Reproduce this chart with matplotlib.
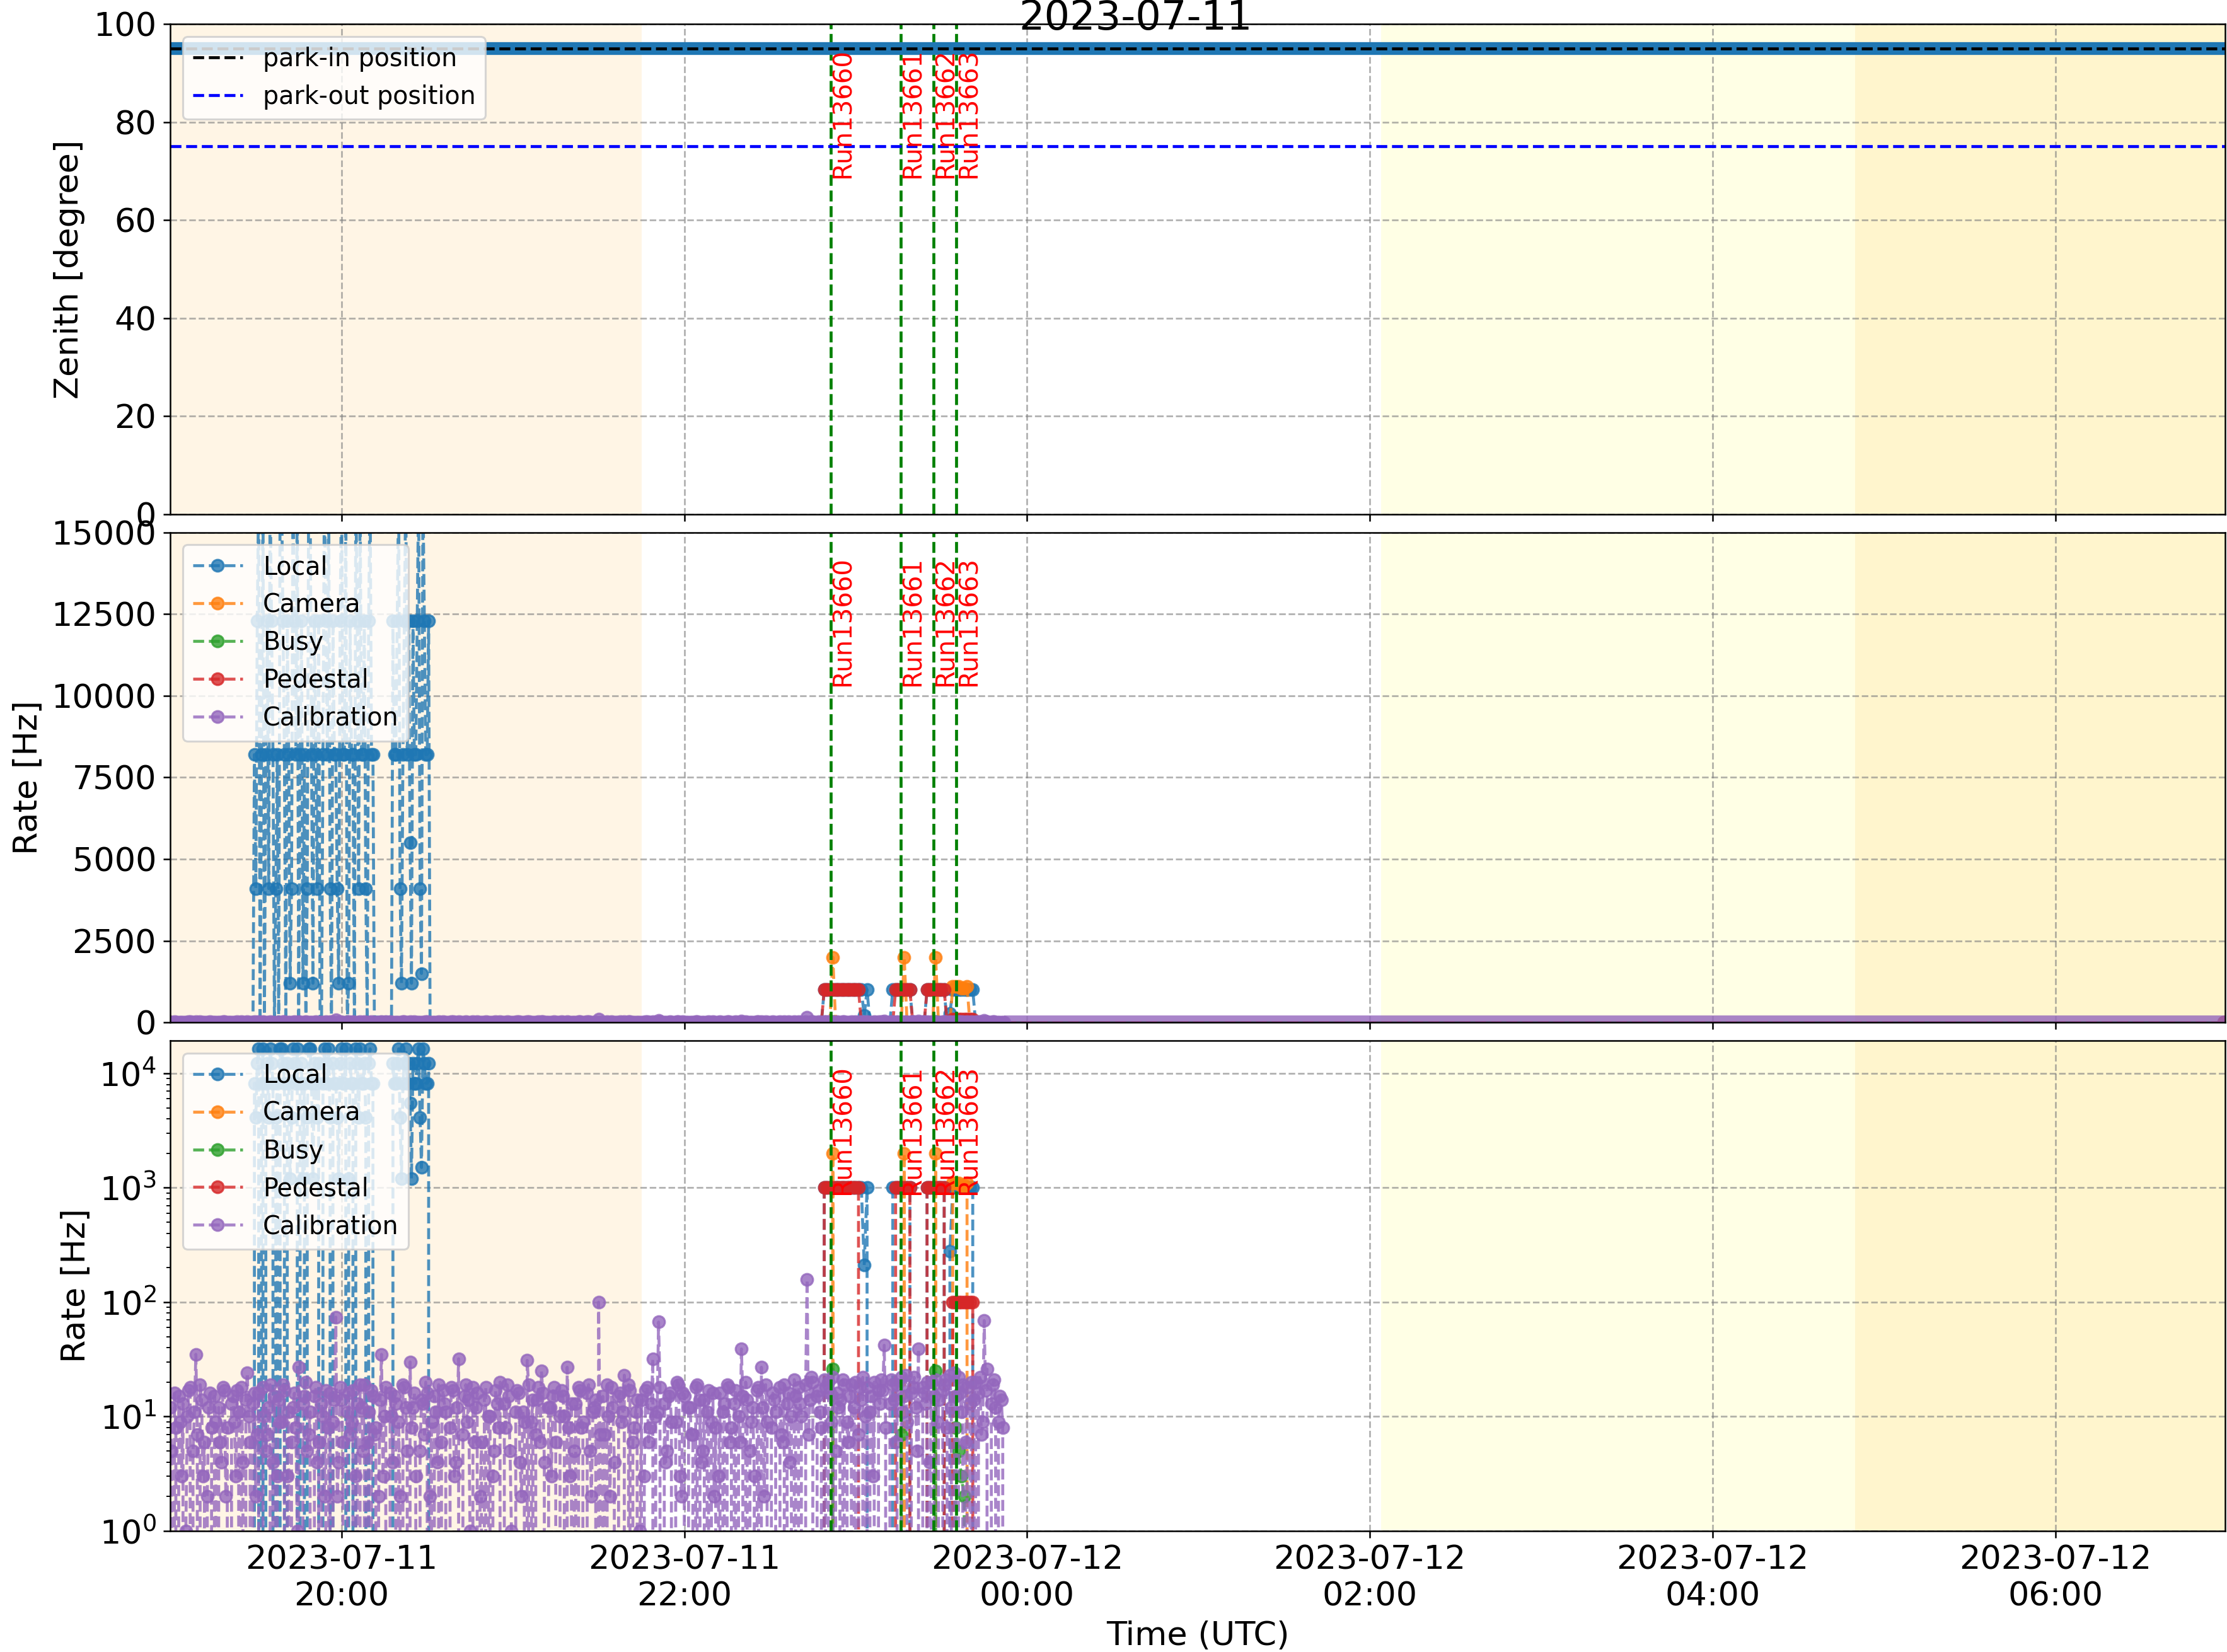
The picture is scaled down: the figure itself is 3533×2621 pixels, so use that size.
import matplotlib
matplotlib.use("Agg")
import matplotlib.pyplot as plt
import matplotlib.dates as mdates
import pandas as pd

plt.rcParams["font.size"] = 16.8

# ---- data -------------------------------------------------------------
title = "2023-07-11"
x_start = "2023-07-11 19:00:00"
x_end = "2023-07-12 06:59:30"

# sky condition bands (start, end, colour)
span_starts = ["2023-07-11 19:00:00", "2023-07-12 02:04:00", "2023-07-12 04:50:00"]
span_ends = ["2023-07-11 21:45:00", "2023-07-12 07:00:00", "2023-07-12 07:00:00"]
span_colors = ["orange", "yellow", "orange"]

# zenith of the telescope (parked all night)
zenith_times = ["2023-07-11 19:00:00", "2023-07-12 06:59:30"]
zenith_deg = [95.0, 95.0]
park_in = 95.0
park_out = 75.0

# runs
run_ids = [13660, 13661, 13662, 13663]
run_starts = ["2023-07-11 22:51:12", "2023-07-11 23:15:42",
              "2023-07-11 23:27:12", "2023-07-11 23:35:18"]

# trigger rates [Hz], one value per minute from each segment start
local_starts = ["2023-07-11 19:00:00", "2023-07-11 19:29:00", "2023-07-11 19:29:30",
                "2023-07-11 22:48:00", "2023-07-11 23:12:00", "2023-07-11 23:24:00",
                "2023-07-12 06:59:00"]
local_values = [
    [0],
    [0, 4100, 16400, 8200, 0, 12300, 16400, 8200, 4100, 0,
     16400, 8200, 12300, 1200, 16400, 8200, 0, 12300, 8200, 4100,
     16400, 1200, 8200, 12300, 0, 16400, 8200, 4100, 12300, 8200,
     1200, 16400, 8200, 0, 12300, 8200, 16400, 4100, 8200, 12300,
     0, 16400, 8200, 0, 0, 0, 0, 0, 0, 12300,
     8200, 16400, 1200, 12300, 8200, 5500, 12300, 8200, 16400, 1500,
     12300, 8200, 0],
    [8200, 12300, 0, 16400, 8200, 4100, 12300, 0, 8200, 16400,
     12300, 0, 8200, 4100, 12300, 16400, 8200, 1200, 0, 16400,
     8200, 12300, 4100, 0, 8200, 12300, 16400, 0, 8200, 4100,
     12300, 8200, 16400, 1200, 8200, 0, 12300, 16400, 8200, 4100,
     12300, 8200, 0, 0, 0, 0, 0, 0, 0, 8200,
     12300, 4100, 8200, 16400, 12300, 1200, 8200, 12300, 4100, 16400,
     8200, 12300],
    [0, 1000, 1000, 1000, 1000, 1000, 1000, 1000, 1000, 1000, 1000, 1000,
     1000, 1000, 1000, 211, 1000, 0],
    [0, 1000, 1000, 1000, 1000, 1000, 1000, 1000, 0],
    [0, 1000, 1000, 1000, 1000, 1000, 1000, 1000, 0, 279,
     1000, 1000, 1000, 1000, 1000, 1000, 1000, 1000, 0],
    [0],
]

camera_starts = ["2023-07-11 19:00:00", "2023-07-11 22:51:00", "2023-07-11 23:16:00",
                 "2023-07-11 23:27:00", "2023-07-11 23:33:00", "2023-07-12 06:59:00"]
camera_values = [
    [0],
    [0, 2000, 0],
    [0, 2000, 0],
    [0, 2000, 0],
    [0, 1100, 1100, 1100, 1050, 1050, 1100, 0],
    [0],
]

busy_starts = ["2023-07-11 19:00:00", "2023-07-11 22:51:00", "2023-07-11 23:15:00",
               "2023-07-11 23:27:00", "2023-07-11 23:34:00", "2023-07-12 06:59:00"]
busy_values = [
    [0],
    [0, 26, 0],
    [0, 7, 0],
    [0, 25, 0],
    [0, 8, 5, 3, 2, 0],
    [0],
]

pedestal_starts = ["2023-07-11 19:00:00", "2023-07-11 22:48:00", "2023-07-11 23:13:00",
                   "2023-07-11 23:24:00", "2023-07-12 06:59:00"]
pedestal_values = [
    [0],
    [0, 1000, 1000, 1000, 1000, 1000, 1000, 1000, 1000, 1000, 1000, 1000,
     1000, 1000, 0],
    [0, 1000, 1000, 1000, 1000, 1000, 1000, 0],
    [0, 1000, 1000, 1000, 1000, 1000, 1000, 1000, 0, 0,
     100, 100, 100, 100, 100, 100, 100, 100, 0],
    [0],
]

calib_starts = ["2023-07-11 19:00:00", "2023-07-11 19:00:30"]
calib_values = [
    [12, 0, 8, 15, 3, 0, 10, 18, 5, 35,
     0, 14, 6, 2, 16, 0, 9, 12, 4, 17,
     8, 0, 15, 3, 11, 18, 0, 24, 6, 13,
     2, 16, 0, 10, 7, 19, 4, 0, 14, 9,
     17, 3, 0, 12, 8, 27, 0, 15, 5, 11,
     0, 18, 6, 13, 2, 0, 16, 9, 74, 4,
     14, 0, 11, 7, 17, 3, 0, 12, 19, 6,
     0, 15, 8, 2, 35, 10, 0, 16, 4, 13,
     9, 0, 18, 5, 30, 12, 3, 0, 14, 7,
     16, 2, 0, 11, 19, 6, 13, 0, 8, 17,
     4, 32, 0, 15, 9, 1, 18, 12, 0, 6,
     14, 0, 10, 3, 17, 8, 0, 13, 19, 5,
     0, 11, 16, 2, 9, 31, 0, 14, 7, 18,
     25, 4, 0, 12, 15, 6, 0, 17, 10, 27,
     3, 0, 13, 18, 8, 0, 16, 5, 11, 14,
     100, 0, 7, 19, 2, 12, 0, 15, 9, 23,
     0, 17, 6, 11, 0, 14, 3, 18, 8, 32,
     10, 67, 0, 13, 5, 16, 0, 9, 19, 2,
     15, 0, 12, 7, 18, 0, 4, 14, 11, 0,
     16, 8, 3, 0, 13, 19, 6, 0, 17, 10,
     39, 0, 14, 5, 12, 0, 18, 27, 2, 9,
     0, 16, 11, 0, 7, 19, 13, 4, 0, 15,
     18, 10, 0, 158, 14, 20, 0, 17, 8, 21,
     0, 16, 22, 5, 12, 0, 19, 9, 15, 0,
     20, 7, 14, 0, 18, 11, 3, 0, 17, 21,
     42, 0, 13, 19, 6, 0, 22, 15, 9, 0,
     18, 12, 39, 0, 16, 20, 4, 0, 21, 14,
     0, 19, 8, 23, 0, 15, 22, 11, 0, 18,
     13, 0, 20, 16, 7, 69, 26, 0, 19, 12,
     9, 14, 0],
    [5, 16, 0, 9, 13, 1, 17, 0, 11, 7,
     19, 3, 0, 12, 8, 15, 0, 6, 18, 2,
     0, 13, 9, 17, 0, 4, 14, 10, 0, 16,
     7, 0, 18, 5, 12, 0, 15, 3, 9, 19,
     0, 11, 6, 16, 1, 0, 13, 20, 7, 0,
     15, 4, 0, 10, 17, 8, 0, 14, 2, 18,
     6, 0, 16, 9, 0, 13, 19, 5, 0, 11,
     17, 7, 0, 14, 3, 18, 0, 10, 15, 0,
     2, 19, 12, 0, 8, 16, 0, 5, 13, 20,
     0, 9, 15, 4, 0, 17, 11, 0, 18, 3,
     12, 0, 7, 19, 14, 0, 6, 16, 2, 0,
     18, 10, 0, 5, 13, 20, 0, 8, 15, 1,
     0, 17, 4, 11, 0, 19, 9, 0, 14, 6,
     16, 0, 12, 3, 18, 0, 10, 15, 0, 8,
     13, 5, 0, 17, 9, 0, 19, 2, 12, 0,
     7, 15, 0, 10, 18, 4, 0, 16, 11, 0,
     19, 0, 8, 14, 1, 0, 17, 6, 13, 0,
     11, 18, 0, 4, 15, 9, 0, 20, 3, 16,
     0, 12, 7, 0, 19, 14, 5, 0, 17, 9,
     2, 0, 16, 11, 0, 18, 8, 13, 0, 6,
     15, 20, 0, 9, 3, 17, 0, 12, 19, 0,
     8, 14, 0, 18, 6, 0, 16, 10, 21, 0,
     13, 0, 19, 7, 22, 0, 15, 11, 0, 18,
     20, 9, 0, 16, 14, 21, 0, 6, 19, 12,
     0, 18, 22, 10, 0, 15, 20, 0, 13, 17,
     8, 0, 21, 14, 19, 0, 11, 23, 0, 16,
     22, 5, 0, 18, 13, 0, 20, 15, 9, 0,
     17, 21, 0, 12, 24, 0, 16, 19, 6, 0,
     20, 14, 0, 22, 9, 17, 0, 13, 21, 0,
     15, 8],
]
# calibration idle (no triggers) after the last run until the end of night
calib_idle_times = ["2023-07-11 23:52:00", "2023-07-12 06:59:30"]
calib_idle_rate = [0, 0]


def build(starts, values):
    times, rates = [], []
    for start, vals in zip(starts, values):
        times.extend(pd.date_range(start, periods=len(vals), freq="1min"))
        rates.extend(vals)
    pairs = sorted(zip(times, rates), key=lambda p: p[0])
    return [p[0] for p in pairs], [p[1] for p in pairs]


series = [
    ("Local", build(local_starts, local_values)),
    ("Camera", build(camera_starts, camera_values)),
    ("Busy", build(busy_starts, busy_values)),
    ("Pedestal", build(pedestal_starts, pedestal_values)),
    ("Calibration", build(calib_starts, calib_values)),
]

# ---- figure -----------------------------------------------------------
fig, (ax1, ax2, ax3) = plt.subplots(3, 1, figsize=(3533 / 225, 2621 / 225), sharex=True)
fig.subplots_adjust(left=0.0764, right=0.9992, top=0.9855, bottom=0.0733, hspace=0.037)

for ax in (ax1, ax2, ax3):
    for s, e, c in zip(span_starts, span_ends, span_colors):
        ax.axvspan(pd.Timestamp(s), pd.Timestamp(e), color=c, alpha=0.1, lw=0)

# zenith panel
for t in run_starts:
    ax1.axvline(pd.Timestamp(t), color="green", ls="--", lw=1.5)
ax1.plot([pd.Timestamp(t) for t in zenith_times], zenith_deg, color="tab:blue", lw=6.5)
ax1.axhline(park_in, color="k", ls="--", lw=1.5, label="park-in position")
ax1.axhline(park_out, color="blue", ls="--", lw=1.5, label="park-out position")
ax1.set_ylim(0, 100)
ax1.set_ylabel("Zenith [degree]")
ax1.legend(loc="upper left", fontsize=12.7)

# rate panels
for ax in (ax2, ax3):
    for name, (t, r) in series:
        ax.plot(t, r, ls="--", marker="o", ms=6, alpha=0.8, label=name)
    ax.plot([pd.Timestamp(t) for t in calib_idle_times], calib_idle_rate,
            color="tab:purple", lw=7, alpha=0.8, solid_capstyle="butt")
    for t in run_starts:
        ax.axvline(pd.Timestamp(t), color="green", ls="--", lw=1.5)
    ax.set_ylabel("Rate [Hz]")
    ax.legend(loc="upper left", fontsize=12.7)

ax2.set_ylim(0, 15000)
ax3.set_yscale("log")
ax3.set_ylim(1, 1.93e4)

for ax in (ax1, ax2, ax3):
    for rid, t in zip(run_ids, run_starts):
        ax.text(pd.Timestamp(t), 0.95, f"Run{rid}", transform=ax.get_xaxis_transform(),
                rotation=90, color="red", ha="left", va="top", fontsize=12.9)
    ax.grid(True, ls="--", color="gray", alpha=0.6, lw=0.9)

ax3.set_xlim(pd.Timestamp(x_start), pd.Timestamp(x_end))
ax3.xaxis.set_major_locator(mdates.HourLocator(byhour=range(0, 24, 2)))
ax3.xaxis.set_major_formatter(mdates.DateFormatter("%Y-%m-%d\n%H:%M"))
ax3.set_xlabel("Time (UTC)")

fig.text(0.51, 0.982, title, ha="center", va="baseline", fontsize=20.4)

fig.savefig("out.png", dpi=225)
